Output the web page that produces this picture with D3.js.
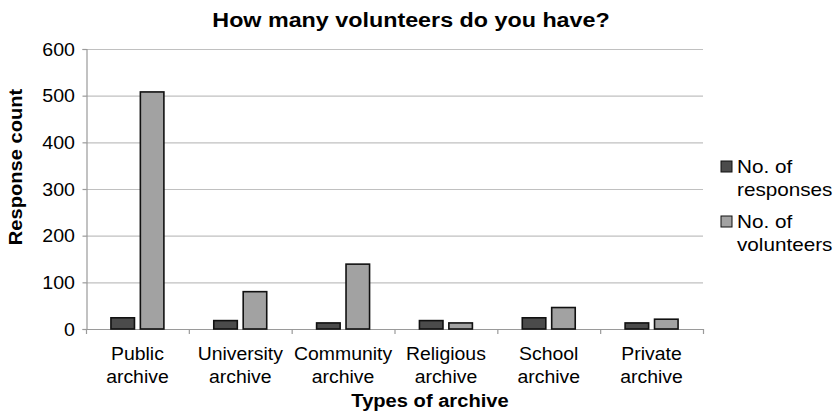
<!DOCTYPE html>
<html>
<head>
<meta charset="utf-8">
<script src="https://cdn.jsdelivr.net/npm/d3@7"></script>
<style>
  html, body { margin: 0; padding: 0; background: #fff; }
  svg { display: block; font-family: "Liberation Sans", Arial, sans-serif; }
</style>
</head>
<body>
<svg id="chart" width="839" height="419"></svg>
<script>
// Volunteer survey: responses and volunteer counts per archive type
const categories = [
  ["Public", "archive"],
  ["University", "archive"],
  ["Community", "archive"],
  ["Religious", "archive"],
  ["School", "archive"],
  ["Private", "archive"]
];
const seriesNames = ["No. of responses", "No. of volunteers"];
const responses  = [24, 18, 13, 18, 24, 13];
const volunteers = [508, 80, 139, 13, 46, 21];
const yTicks = [0, 100, 200, 300, 400, 500, 600];

const seriesValues = [responses, volunteers];
const colors = ["#4b4b4b", "#a2a2a2"];

const plot = { left: 86, right: 703, top: 49, bottom: 329 };

const svg = d3.select("#chart");

// horizontally widened text, as in the original rendering
function wideText(parent, x, y, str, opts) {
  const g = parent.append("g")
    .attr("transform", `translate(${x},${y}) scale(${opts.sx || 1},1)`);
  g.append("text")
    .attr("x", 0).attr("y", 0)
    .attr("text-anchor", opts.anchor || "start")
    .attr("font-size", opts.size)
    .attr("font-weight", opts.weight || "normal")
    .attr("fill", opts.fill || "#000")
    .text(str);
  return g;
}

const x0 = d3.scaleBand()
  .domain(d3.range(categories.length))
  .range([plot.left, plot.right])
  .paddingInner(0.485)
  .paddingOuter(0.2425);

const x1 = d3.scaleBand()
  .domain(d3.range(seriesNames.length))
  .range([0, x0.bandwidth()])
  .paddingInner(0.2);

const y = d3.scaleLinear().domain([0, 600]).range([plot.bottom, plot.top]);

// gridlines
svg.append("g")
  .selectAll("line")
  .data(yTicks.filter(d => d > 0))
  .join("line")
  .attr("x1", plot.left).attr("x2", plot.right)
  .attr("y1", d => y(d) + 0.5).attr("y2", d => y(d) + 0.5)
  .attr("stroke", "#c0c0c0").attr("stroke-width", 1.2);

// y axis
const yAxis = svg.append("g")
  .attr("transform", `translate(${plot.left + 0.5},0)`)
  .call(d3.axisLeft(y).tickValues(yTicks).tickSize(4).tickFormat(""));
yAxis.select(".domain").attr("stroke", "#9a9a9a").attr("stroke-width", 1.2);
yAxis.selectAll(".tick line").attr("stroke", "#9a9a9a").attr("stroke-width", 1.2);

yTicks.forEach(v => {
  wideText(svg, 75, y(v) + 6.5, String(v), { size: 18, sx: 1.09, anchor: "end" });
});

// x axis
const stepTicks = d3.range(categories.length + 1).map(i => plot.left + i * x0.step());
const xAxisG = svg.append("g");
xAxisG.append("line")
  .attr("x1", plot.left).attr("x2", plot.right)
  .attr("y1", plot.bottom + 0.5).attr("y2", plot.bottom + 0.5)
  .attr("stroke", "#9a9a9a").attr("stroke-width", 1.2);
xAxisG.selectAll("line.tk")
  .data(stepTicks)
  .join("line")
  .attr("class", "tk")
  .attr("x1", d => d + 0.5).attr("x2", d => d + 0.5)
  .attr("y1", plot.bottom).attr("y2", plot.bottom + 5)
  .attr("stroke", "#9a9a9a").attr("stroke-width", 1.2);

categories.forEach((lines, i) => {
  const cx = x0(i) + x0.bandwidth() / 2;
  lines.forEach((ln, j) => {
    wideText(svg, cx, 359.5 + j * 23, ln, { size: 18.5, sx: 1.05, anchor: "middle" });
  });
});

// bars
const groups = svg.append("g")
  .selectAll("g")
  .data(categories.map((c, i) => i))
  .join("g")
  .attr("transform", i => `translate(${x0(i)},0)`);

groups.selectAll("rect")
  .data(i => seriesValues.map((s, k) => ({ k, v: s[i] })))
  .join("rect")
  .attr("x", d => x1(d.k))
  .attr("y", d => y(d.v))
  .attr("width", x1.bandwidth())
  .attr("height", d => y(0) - y(d.v))
  .attr("fill", d => colors[d.k])
  .attr("stroke", "#111")
  .attr("stroke-width", 1.6);

// title
wideText(svg, 411, 27, "How many volunteers do you have?", { size: 21, sx: 1.11, anchor: "middle", weight: "bold" });

// axis titles
wideText(svg, 430, 406.5, "Types of archive", { size: 19, sx: 1.06, anchor: "middle", weight: "bold" });
svg.append("g")
  .attr("transform", `translate(22,167) rotate(-90) scale(1.06,1)`)
  .append("text")
  .attr("text-anchor", "middle")
  .attr("font-size", 19)
  .attr("font-weight", "bold")
  .text("Response count");

// legend
const legendItems = [
  { lines: ["No. of", "responses"], color: colors[0], y: 161 },
  { lines: ["No. of", "volunteers"], color: colors[1], y: 216 }
];
legendItems.forEach(item => {
  svg.append("rect")
    .attr("x", 721).attr("y", item.y)
    .attr("width", 11).attr("height", 11)
    .attr("fill", item.color)
    .attr("stroke", "#111").attr("stroke-width", 1);
  item.lines.forEach((ln, j) => {
    wideText(svg, 737, item.y + 11.5 + j * 23, ln, { size: 18, sx: 1.15 });
  });
});
</script>
</body>
</html>
